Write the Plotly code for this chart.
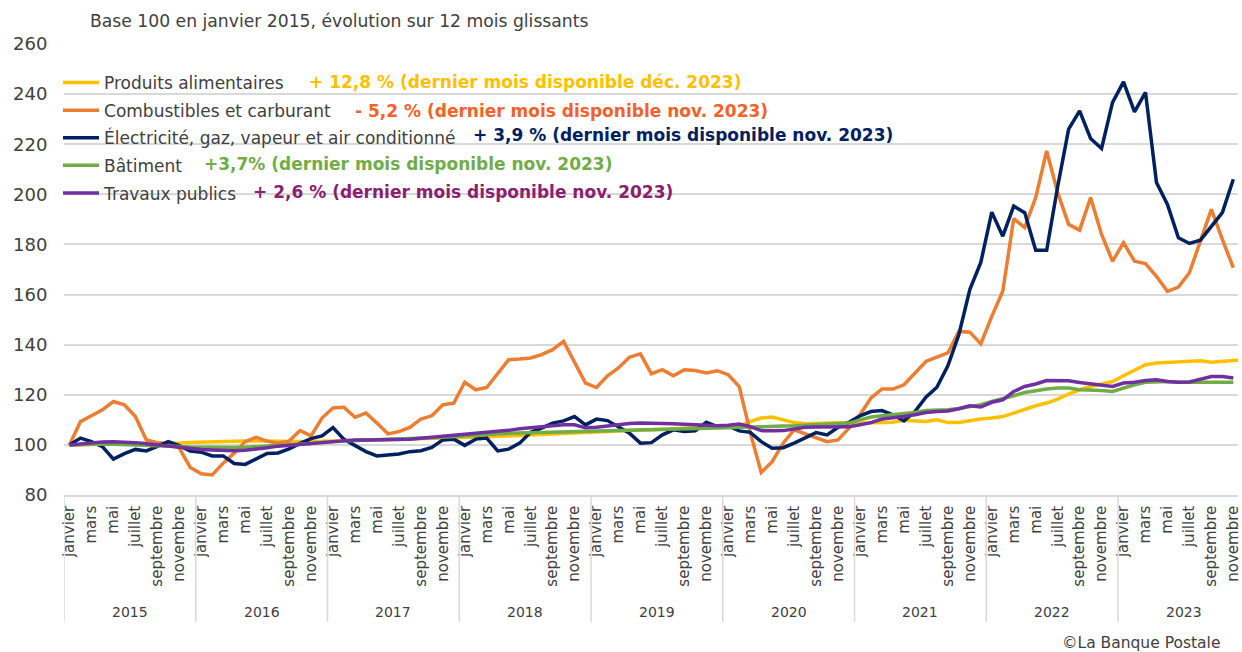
import plotly.graph_objects as go

# ---------------- data ----------------
years = [2015, 2016, 2017, 2018, 2019, 2020, 2021, 2022, 2023]
month_names = ["janvier", "février", "mars", "avril", "mai", "juin", "juillet",
               "août", "septembre", "octobre", "novembre", "décembre"]
shown_months = ["janvier", "mars", "mai", "juillet", "septembre", "novembre"]

produits_alimentaires = [
    100.0, 100.2, 100.3, 100.4, 100.5, 100.6, 100.6, 100.5, 100.5, 100.6, 100.8, 101.0,
    101.2, 101.3, 101.3, 101.5, 101.6, 101.7, 101.6, 101.5, 101.4, 101.3, 101.3, 101.5,
    101.7, 101.8, 101.8, 101.9, 102.0, 102.0, 102.1, 102.2, 102.3, 102.4, 102.5, 102.6,
    102.8, 103.0, 103.2, 103.4, 103.6, 103.8, 104.0, 104.2, 104.4, 104.6, 104.9, 105.2,
    105.4, 105.5, 105.6, 105.8, 105.9, 106.0, 106.2, 106.4, 106.6, 106.7, 106.8, 107.0,
    107.1, 107.6, 109.3, 110.7, 111.1, 110.0, 108.9, 108.4, 108.6, 108.7, 108.8, 108.9,
    108.7, 108.7, 108.8, 109.0, 109.8, 109.4, 109.3, 110.0, 108.9, 108.9, 109.7, 110.3,
    110.7, 111.3, 112.7, 114.3, 115.6, 116.7, 118.3, 120.3, 122.0, 123.3, 124.2, 125.3,
    127.6, 129.7, 132.0, 132.7, 132.9, 133.1, 133.3, 133.6, 133.0, 133.2, 133.7, 134.0,
]
combustibles_carburant = [
    100.0, 109.3, 111.6, 114.0, 117.3, 116.0, 111.3, 102.0, 100.9, 100.5, 98.7, 91.0,
    88.5, 88.0, 92.7, 96.7, 101.3, 103.0, 101.5, 100.7, 101.5, 105.7, 103.6, 110.7,
    114.7, 115.0, 111.0, 112.7, 108.7, 104.4, 105.3, 107.0, 110.3, 111.6, 116.0, 116.7,
    125.0, 122.0, 122.9, 128.7, 134.0, 134.3, 134.7, 136.0, 138.0, 141.3, 133.3, 124.7,
    122.9, 127.6, 130.7, 135.0, 136.3, 128.4, 130.0, 127.6, 130.0, 129.7, 128.7, 129.6,
    128.0, 123.3, 105.0, 89.0, 93.3, 100.7, 106.0, 104.5, 102.7, 101.3, 102.0, 106.7,
    112.0, 118.7, 122.3, 122.3, 124.0, 128.7, 133.3, 135.0, 136.7, 145.3, 145.0, 140.3,
    151.3, 161.3, 190.3, 186.7, 198.7, 217.3, 200.7, 188.0, 185.7, 198.7, 184.0, 173.3,
    180.7, 173.3, 172.4, 167.3, 161.3, 163.0, 168.7, 181.3, 194.0, 182.0, 170.7,
]
electricite_gaz = [
    100.0, 102.7, 101.3, 99.3, 94.3, 96.5, 98.2, 97.6, 99.4, 101.3, 99.7, 97.5,
    97.1, 95.6, 95.6, 92.6, 92.2, 94.5, 96.6, 96.8, 98.4, 100.6, 102.5, 103.6,
    106.9, 102.2, 99.6, 97.3, 95.6, 96.0, 96.4, 97.3, 97.7, 99.0, 102.0, 102.3,
    99.8, 102.3, 102.7, 97.6, 98.3, 100.7, 105.0, 106.7, 108.7, 109.6, 111.3, 108.0,
    110.3, 109.7, 107.3, 104.7, 100.7, 100.9, 104.0, 106.0, 105.3, 105.6, 109.0, 107.3,
    107.6, 105.6, 105.0, 101.3, 98.7, 98.9, 100.7, 102.7, 104.9, 104.0, 107.0, 109.0,
    111.6, 113.3, 113.7, 112.0, 109.6, 113.3, 119.0, 123.0, 131.6, 144.0, 162.0, 172.8,
    192.9, 183.3, 195.3, 192.7, 177.7, 177.7, 203.0, 226.0, 233.3, 222.3, 218.3, 236.7,
    244.9, 232.9, 240.7, 204.7, 196.0, 182.7, 180.4, 181.7, 187.3, 192.7, 206.0,
]
batiment = [
    100.0, 100.2, 100.3, 100.4, 100.3, 100.2, 100.1, 100.0, 99.8, 99.6, 99.4, 99.2,
    99.1, 99.0, 99.0, 99.0, 99.1, 99.3, 99.5, 99.7, 99.9, 100.2, 100.6, 101.0,
    101.4, 101.6, 101.8, 101.9, 102.0, 102.1, 102.2, 102.4, 102.6, 102.8, 103.0, 103.3,
    103.6, 104.0, 104.3, 104.5, 104.6, 104.7, 104.8, 104.9, 105.0, 105.0, 105.1, 105.2,
    105.3, 105.5, 105.7, 105.9, 106.0, 106.1, 106.2, 106.3, 106.4, 106.5, 106.6, 106.7,
    106.8, 107.0, 107.2, 107.3, 107.4, 107.5, 107.6, 107.8, 108.0, 108.2, 108.5, 108.7,
    110.0, 111.1, 111.6, 112.0, 112.4, 112.9, 113.7, 113.7, 114.0, 114.5, 115.1, 116.0,
    117.3, 118.3, 119.6, 120.9, 121.7, 122.3, 122.7, 122.7, 122.0, 122.0, 121.7, 121.3,
    122.7, 124.0, 125.0, 125.3, 125.3, 125.0, 125.0, 125.3, 125.0, 125.0, 125.0,
]
travaux_publics = [
    100.0, 100.5, 100.9, 101.2, 101.3, 101.2, 100.9, 100.5, 100.0, 99.4, 99.0, 98.7,
    98.2, 98.0, 97.8, 97.7, 97.9, 98.3, 98.9, 99.5, 99.9, 100.2, 100.5, 100.8,
    101.3, 101.7, 102.0, 102.0, 102.0, 102.0, 102.1, 102.3, 102.6, 103.0, 103.3, 103.6,
    104.2, 104.4, 104.9, 105.3, 105.8, 106.4, 106.8, 107.2, 107.6, 108.0, 108.0, 106.8,
    107.0, 107.6, 108.2, 108.5, 108.7, 108.7, 108.6, 108.4, 108.2, 108.0, 107.8, 107.6,
    107.8, 108.3, 107.3, 105.7, 105.6, 105.7, 106.3, 107.0, 107.1, 107.1, 106.9, 107.2,
    108.0, 108.9, 110.3, 110.7, 111.3, 112.0, 112.9, 113.3, 113.5, 114.4, 115.6, 115.1,
    117.0, 118.0, 121.3, 123.3, 124.3, 125.7, 125.7, 125.6, 124.9, 124.4, 124.0, 123.3,
    124.7, 125.0, 125.7, 126.0, 125.3, 125.0, 125.1, 126.3, 127.3, 127.3, 126.7,
]

series_names = [
    "Produits alimentaires",
    "Combustibles et carburant",
    "Électricité, gaz, vapeur et air conditionné",
    "Bâtiment",
    "Travaux publics",
]
series_values = [produits_alimentaires, combustibles_carburant, electricite_gaz,
                 batiment, travaux_publics]
series_notes = [
    "+ 12,8 % (dernier mois disponible déc. 2023)",
    "- 5,2 % (dernier mois disponible nov. 2023)",
    "+ 3,9 % (dernier mois disponible nov. 2023)",
    "+3,7% (dernier mois disponible nov. 2023)",
    "+ 2,6 % (dernier mois disponible nov. 2023)",
]
y_ticks = [80, 100, 120, 140, 160, 180, 200, 220, 240, 260]

# ---------------- style ----------------
FONT = "DejaVu Sans"
TXT = "#404040"
GRID = "#D9D9D9"
line_colors = ["#FFC000", "#ED7D31", "#002060", "#70AD47", "#7030A0"]
note_colors = ["#FFC000", "#F4622A", "#002060", "#70AD47", "#8B2070"]
note_px = [(308, 82), (354, 111), (472, 135), (202, 164), (252, 192)]

W, H = 1242, 652
ML, MR, MT, MB = 64, 0, 44, 157
PW, PH = W - ML - MR, H - MT - MB


def pxx(px):
    return (px - ML) / PW


def pxy(py):
    return (H - MB - py) / PH


fig = go.Figure()
for name, vals, col in zip(series_names, series_values, line_colors):
    fig.add_trace(go.Scatter(
        x=list(range(len(vals))), y=vals, mode="lines", name=name,
        legendgroup=name,
        line=dict(color=col, width=3.5),
        hoverinfo="skip",
    ))

# month tick labels (every other month)
tickvals, ticktext = [], []
for yi, yr in enumerate(years):
    for mi, mn in enumerate(month_names):
        if mn in shown_months:
            tickvals.append(yi * 12 + mi)
            ticktext.append(mn)

shapes = []
annotations = []
for yi, yr in enumerate(years):
    shapes.append(dict(type="line", xref="x", yref="paper",
                       x0=yi * 12 - 0.5, x1=yi * 12 - 0.5,
                       y0=0, y1=pxy(622), line=dict(color=GRID, width=1.5)))
    annotations.append(dict(xref="x", yref="paper", x=yi * 12 + 5.5, y=pxy(612),
                            yanchor="middle", text=str(yr), showarrow=False,
                            font=dict(family=FONT, size=14, color=TXT)))

for note, col, (px, py) in zip(series_notes, note_colors, note_px):
    annotations.append(dict(xref="paper", yref="paper", x=pxx(px), y=pxy(py),
                            xanchor="left", yanchor="middle", text="<b>" + note + "</b>",
                            showarrow=False,
                            font=dict(family=FONT, size=17, color=col)))

annotations.append(dict(xref="paper", yref="paper", x=pxx(88), y=pxy(21),
                        xanchor="left", yanchor="middle",
                        text="Base 100 en janvier 2015, évolution sur 12 mois glissants",
                        showarrow=False, font=dict(family=FONT, size=17.2, color=TXT)))
annotations.append(dict(xref="paper", yref="paper", x=pxx(1226), y=pxy(643),
                        xanchor="right", yanchor="middle",
                        text="©La Banque Postale",
                        showarrow=False, font=dict(family=FONT, size=15.5, color=TXT)))

fig.update_layout(
    width=W, height=H,
    margin=dict(l=ML, r=MR, t=MT, b=MB, pad=0),
    paper_bgcolor="white", plot_bgcolor="white",
    font=dict(family=FONT, color=TXT),
    showlegend=True,
    legend=dict(x=pxx(58), y=pxy(65), xanchor="left", yanchor="top",
                bgcolor="rgba(0,0,0,0)", font=dict(family=FONT, size=17, color=TXT),
                tracegroupgap=2.5, itemwidth=36),
    xaxis=dict(range=[-0.5, -0.5 + PW / 11.017], tickmode="array",
               tickvals=tickvals, ticktext=ticktext, tickangle=-90,
               ticks="outside", ticklen=3, tickcolor="rgba(0,0,0,0)",
               ticklabeloverflow="allow",
               tickfont=dict(family=FONT, size=15, color=TXT),
               showgrid=False, zeroline=False,
               showline=True, linecolor=GRID, linewidth=1.5),
    yaxis=dict(range=[80, 260], tickmode="array", tickvals=y_ticks,
               ticks="outside", ticklen=12, tickcolor="rgba(0,0,0,0)",
               tickfont=dict(family=FONT, size=18, color=TXT),
               showgrid=True, gridcolor=GRID, gridwidth=1.5, zeroline=False),
    shapes=shapes,
    annotations=annotations,
)

fig.write_html("out.html",
               config={"displayModeBar": False},
               post_script="document.body.style.margin='0';"
                           "document.body.style.overflow='hidden';")
